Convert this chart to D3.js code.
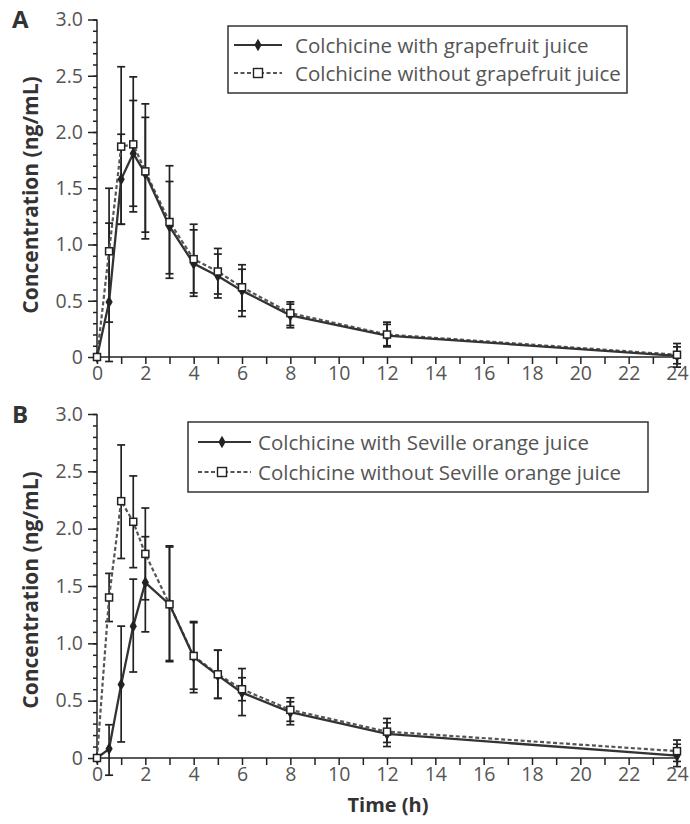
<!DOCTYPE html>
<html>
<head>
<meta charset="utf-8">
<script src="https://cdn.jsdelivr.net/npm/d3@7"></script>
<style>
  body { margin: 0; background: #fff; }
  svg text { font-family: "Open Sans", sans-serif; }
</style>
</head>
<body>
<svg id="chart"></svg>
<script>
// sampling times (h)
const times = [0, 0.5, 1, 1.5, 2, 3, 4, 5, 6, 8, 12, 24];

// Panel A - grapefruit juice
const grapeWith     = [0, 0.49, 1.58, 1.81, 1.63, 1.16, 0.83, 0.72, 0.59, 0.37, 0.19, 0.01];
const grapeWithLo   = [0, -0.04, 1.18, 1.34, 1.11, 0.74, 0.54, 0.525, 0.36, 0.26, 0.10, -0.06];
const grapeWithHi   = [0, 1.19, 1.98, 2.28, 2.13, 1.56, 1.13, 0.915, 0.78, 0.47, 0.29, 0.09];
const grapeWithout   = [0, 0.94, 1.87, 1.89, 1.65, 1.20, 0.87, 0.76, 0.62, 0.39, 0.20, 0.02];
const grapeWithoutLo = [0, 0.31, 1.18, 1.29, 1.05, 0.70, 0.57, 0.56, 0.41, 0.28, 0.09, -0.09];
const grapeWithoutHi = [0, 1.50, 2.58, 2.49, 2.25, 1.70, 1.18, 0.965, 0.82, 0.49, 0.31, 0.12];

// Panel B - Seville orange juice
const sevWith     = [0, 0.08, 0.64, 1.15, 1.53, 1.34, 0.88, 0.72, 0.57, 0.40, 0.21, 0.02];
const sevWithLo   = [0, -0.15, 0.14, 0.75, 1.10, 0.85, 0.57, 0.52, 0.37, 0.29, 0.10, -0.075];
const sevWithHi   = [0, 0.29, 1.15, 1.56, 1.93, 1.84, 1.19, 0.94, 0.78, 0.49, 0.307, 0.12];
const sevWithout   = [0, 1.40, 2.24, 2.06, 1.78, 1.34, 0.89, 0.73, 0.60, 0.42, 0.23, 0.06];
const sevWithoutLo = [0, 1.19, 1.74, 1.66, 1.38, 0.84, 0.60, 0.52, 0.50, 0.32, 0.136, -0.03];
const sevWithoutHi = [0, 1.61, 2.73, 2.46, 2.18, 1.85, 1.18, 0.94, 0.70, 0.525, 0.345, 0.157];

const xLabelTicks = [0, 2, 4, 6, 8, 10, 12, 14, 16, 18, 20, 22, 24];
const yLabelTicks = [0, 0.5, 1.0, 1.5, 2.0, 2.5, 3.0];
const yTickLabels = ["0", "0.5", "1.0", "1.5", "2.0", "2.5", "3.0"];

const legendA = ["Colchicine with grapefruit juice", "Colchicine without grapefruit juice"];
const legendB = ["Colchicine with Seville orange juice", "Colchicine without Seville orange juice"];

var svgWidth = 690, svgHeight = 824;
var ink = "#222", labelInk = "#555", titleInk = "#333";

const svg = d3.select("#chart")
    .attr("width", svgWidth)
    .attr("height", svgHeight);

function rows(mean, lo, hi) {
    return times.map((t, i) => ({ t: t, v: mean[i], lo: lo[i], hi: hi[i] }));
}

const panels = [
    {
        letter: "A", top: 19.5, bottom: 357, letterY: 28, titleY: 195,
        withData: rows(grapeWith, grapeWithLo, grapeWithHi),
        withoutData: rows(grapeWithout, grapeWithoutLo, grapeWithoutHi),
        legend: legendA,
        box: { x: 228, y: 26, w: 399, h: 67, line: [234, 282], marker: 258, text: 295, rows: [19, 47] }
    },
    {
        letter: "B", top: 414, bottom: 758, letterY: 423, titleY: 590,
        withData: rows(sevWith, sevWithLo, sevWithHi),
        withoutData: rows(sevWithout, sevWithoutLo, sevWithoutHi),
        legend: legendB,
        box: { x: 188, y: 422, w: 460, h: 70, line: [198, 251], marker: 222, text: 258, rows: [20, 50] }
    }
];

const x = d3.scaleLinear().domain([0, 24]).range([97, 677]);

panels.forEach(function (p) {
    const y = d3.scaleLinear().domain([0, 3]).range([p.bottom, p.top]);
    const g = svg.append("g").classed("panel", true);

    // y axis: minor ticks every 0.1, major every 0.5
    const yMinor = g.append("g")
        .attr("transform", "translate(" + x(0) + ",0)")
        .call(d3.axisLeft(y).tickValues(d3.range(0, 31).map(d => d / 10)).tickSize(4).tickFormat(""));
    const yMajor = g.append("g")
        .attr("transform", "translate(" + x(0) + ",0)")
        .call(d3.axisLeft(y).tickValues(yLabelTicks).tickSize(9).tickPadding(5)
            .tickFormat((d, i) => yTickLabels[i]));
    [yMinor, yMajor].forEach(function (a) {
        a.select(".domain").attr("stroke", ink).attr("stroke-width", 1.5);
        a.selectAll(".tick line").attr("stroke", ink).attr("stroke-width", 1.5);
    });
    yMinor.select(".domain").remove();
    yMajor.select(".domain").attr("d", "M0," + y(3) + "V" + y(0));
    yMajor.selectAll(".tick text")
        .attr("fill", labelInk)
        .style("font-size", "19.5px");

    // x axis: ticks every hour, labels every 2 h
    const xMinor = g.append("g")
        .attr("transform", "translate(0," + y(0) + ")")
        .call(d3.axisBottom(x).tickValues(d3.range(0, 25)).tickSize(7).tickFormat(""));
    xMinor.select(".domain").attr("d", "M" + x(0) + ",0H" + x(24)).attr("stroke", ink).attr("stroke-width", 1.5);
    xMinor.selectAll(".tick line").attr("stroke", ink).attr("stroke-width", 1.5);
    const xLab = g.append("g")
        .attr("transform", "translate(0," + y(0) + ")")
        .call(d3.axisBottom(x).tickValues(xLabelTicks).tickSize(0).tickPadding(9));
    xLab.select(".domain").remove();
    xLab.selectAll(".tick text").attr("fill", labelInk).style("font-size", "19.5px");

    // panel letter and y title
    g.append("text")
        .attr("x", 12).attr("y", p.letterY)
        .attr("fill", titleInk)
        .style("font-size", "24px").style("font-weight", "bold")
        .text(p.letter);
    g.append("text")
        .attr("transform", "translate(30," + p.titleY + ") rotate(-90)")
        .attr("text-anchor", "middle")
        .attr("dominant-baseline", "central")
        .attr("fill", titleInk)
        .style("font-size", "21px").style("font-weight", "bold")
        .text("Concentration (ng/mL)");

    // error bars
    [p.withoutData, p.withData].forEach(function (series) {
        const bars = g.append("g").selectAll(".err")
            .data(series.filter(d => d.hi > d.lo))
            .enter().append("g").classed("err", true)
            .attr("stroke", ink).attr("stroke-width", 1.7);
        bars.append("line")
            .attr("x1", d => x(d.t)).attr("x2", d => x(d.t))
            .attr("y1", d => y(d.lo)).attr("y2", d => y(d.hi));
        bars.append("line")
            .attr("x1", d => x(d.t) - 4).attr("x2", d => x(d.t) + 4)
            .attr("y1", d => y(d.lo)).attr("y2", d => y(d.lo));
        bars.append("line")
            .attr("x1", d => x(d.t) - 4).attr("x2", d => x(d.t) + 4)
            .attr("y1", d => y(d.hi)).attr("y2", d => y(d.hi));
    });

    const line = d3.line().x(d => x(d.t)).y(d => y(d.v));

    g.append("path")
        .datum(p.withoutData)
        .attr("d", line)
        .attr("fill", "none")
        .attr("stroke", "#555")
        .attr("stroke-width", 2.2)
        .attr("stroke-dasharray", "4,2.5");
    g.append("path")
        .datum(p.withData)
        .attr("d", line)
        .attr("fill", "none")
        .attr("stroke", "#333")
        .attr("stroke-width", 2.3);

    const diamond = d3.symbol().type(d3.symbolDiamond).size(45);
    g.append("g").selectAll("path")
        .data(p.withData)
        .enter().append("path")
        .attr("transform", d => "translate(" + [x(d.t), y(d.v)] + ")")
        .attr("d", diamond)
        .attr("fill", ink);
    g.append("g").selectAll("rect")
        .data(p.withoutData)
        .enter().append("rect")
        .attr("x", d => x(d.t) - 3.5).attr("y", d => y(d.v) - 3.5)
        .attr("width", 7).attr("height", 7)
        .attr("fill", "#fff")
        .attr("stroke", ink).attr("stroke-width", 1.5);

    // legend
    const b = p.box;
    const lg = g.append("g").classed("legend", true);
    lg.append("rect")
        .attr("x", b.x).attr("y", b.y).attr("width", b.w).attr("height", b.h)
        .attr("fill", "#fff").attr("stroke", "#333").attr("stroke-width", 1.5);
    b.rows.forEach(function (dy, i) {
        const ly = b.y + dy;
        lg.append("line")
            .attr("x1", b.line[0]).attr("x2", b.line[1]).attr("y1", ly).attr("y2", ly)
            .attr("stroke", i === 0 ? "#333" : "#555")
            .attr("stroke-width", i === 0 ? 2 : 1.8)
            .attr("stroke-dasharray", i === 0 ? null : "4,2.5");
        if (i === 0) {
            lg.append("path")
                .attr("transform", "translate(" + [b.marker, ly] + ")")
                .attr("d", diamond).attr("fill", ink);
        } else {
            lg.append("rect")
                .attr("x", b.marker - 4.5).attr("y", ly - 4.5).attr("width", 9).attr("height", 9)
                .attr("fill", "#fff").attr("stroke", ink).attr("stroke-width", 1.4);
        }
        lg.append("text")
            .attr("x", b.text).attr("y", ly)
            .attr("dominant-baseline", "central")
            .attr("fill", labelInk)
            .style("font-size", "20.5px")
            .text(p.legend[i]);
    });
});

svg.append("text")
    .attr("x", 388).attr("y", 812)
    .attr("text-anchor", "middle")
    .attr("fill", titleInk)
    .style("font-size", "20px").style("font-weight", "bold")
    .text("Time (h)");
</script>
</body>
</html>
